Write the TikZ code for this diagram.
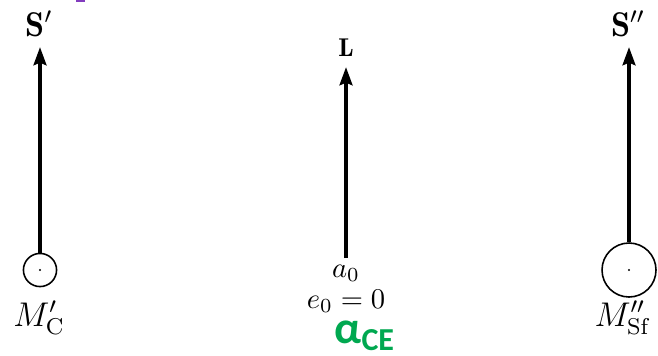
\documentclass[tikz,border=0pt]{standalone}
\usepackage{fontspec}
\newfontfamily\carlito{Carlito}
\usetikzlibrary{arrows.meta,positioning}
\definecolor{cegreen}{RGB}{0,168,80}
\definecolor{tagpurple}{RGB}{130,60,190}

\begin{document}
\begin{tikzpicture}[x=0.35pt, y=-0.35pt,
  spin/.style={-{Stealth[length=6.3pt, width=4.4pt, inset=0.8pt]}, line width=1.7pt},
  star/.style={circle, draw, line width=0.55pt, inner sep=0pt},
  vec/.style={inner sep=0pt},
  lbl/.style={inner sep=0pt, font=\large}
]
\useasboundingbox (0,0) rectangle (658,355);
\fill[tagpurple] (76,0) rectangle (85,2);

% companion star
\node[star, minimum size=11.6pt] (mc) at (40,270) {};
\fill (mc.center) circle (0.4pt);
\coordinate (tipc) at (40,47);
\draw[spin] (mc.north) -- (tipc);
\node[vec, font=\large] (sc) at (39,24) {$\mathbf{S}'$};
\node[lbl] (mclbl) at (39,318) {$M'_{\mathrm{C}}$};

% orbit
\coordinate (lbase) at (346,258);
\coordinate (tipl) at (346,67);
\draw[spin] (lbase) -- (tipl);
\node[vec, font=\small] (lv) at (346,48) {$\mathbf{L}$};
\node[lbl, font=\normalsize] (a0) at (346,273) {$a_0$};
\node[lbl, font=\normalsize] (e0) at (346,301) {$e_0 = 0$};
\node[inner sep=0pt, text=cegreen] (ace) at (365,336)
  {\carlito\bfseries\fontsize{16}{16}\selectfont α\textsubscript{CE}};

% stripped star
\node[star, minimum size=18.9pt] (msf) at (629,270) {};
\fill (msf.center) circle (0.4pt);
\coordinate (tipsf) at (629,47);
\draw[spin] (msf.north) -- (tipsf);
\node[vec, font=\large] (ssf) at (628,24) {$\mathbf{S}''$};
\node[lbl] (msflbl) at (622,318) {$M''_{\mathrm{Sf}}$};
\end{tikzpicture}
\end{document}
